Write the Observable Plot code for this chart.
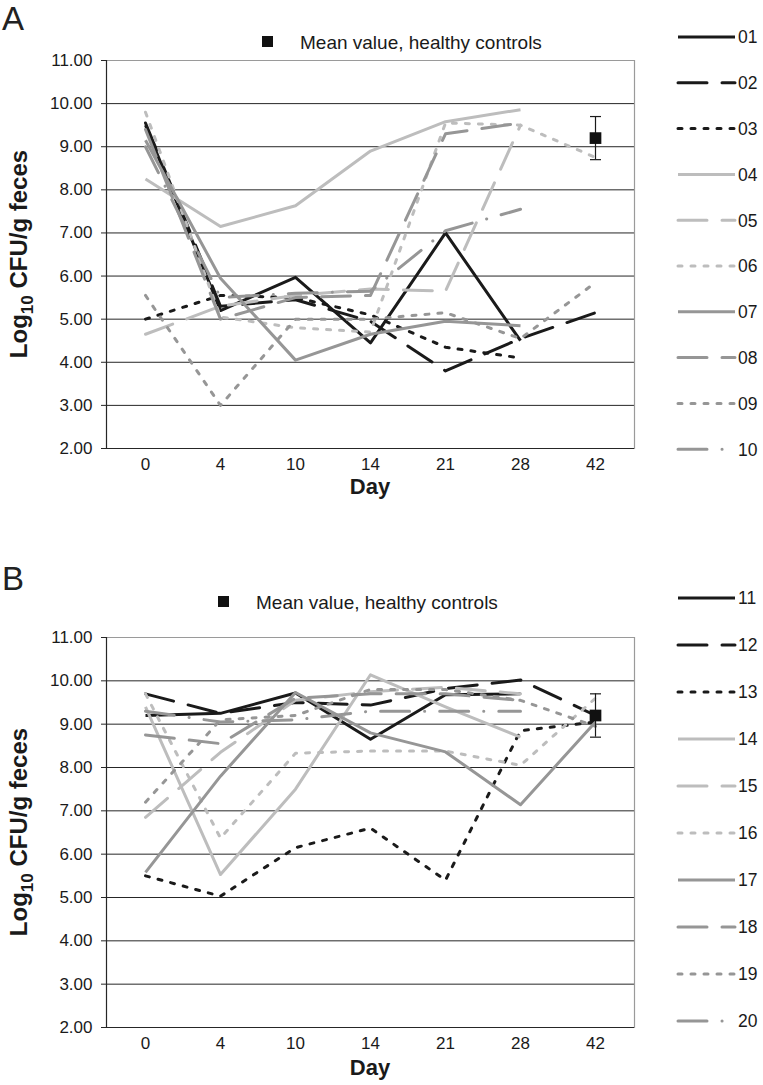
<!DOCTYPE html>
<html><head><meta charset="utf-8">
<script src="https://cdn.jsdelivr.net/npm/d3@7"></script>
<script src="https://cdn.jsdelivr.net/npm/@observablehq/plot@0.6"></script>
<style>
body{margin:0;background:#fff;}
#root{position:relative;width:763px;height:1085px;overflow:hidden;font-family:"Liberation Sans",Arial,sans-serif;}
.layer{position:absolute;left:0;}
</style></head><body><div id="root"></div>
<script>
// ---------- data ----------
const days = ["0","4","10","14","21","28","42"];
const yTicks = [2,3,4,5,6,7,8,9,10,11];

const idsA = ["01","02","03","04","05","06","07","08","09","10"];
const valuesA = [
  [9.50, 5.20, 5.97, 4.45, 7.00, 4.50, null],
  [9.55, 5.30, 5.45, 4.95, 3.80, 4.55, 5.15],
  [5.00, 5.55, 5.50, 5.10, 4.35, 4.10, null],
  [8.25, 7.15, 7.63, 8.90, 9.58, 9.86, null],
  [4.65, 5.30, 5.55, 5.70, 5.65, 9.50, null],
  [9.80, 5.05, 4.80, 4.70, 9.55, 9.50, 8.75],
  [9.15, 5.95, 4.05, 4.65, 4.95, 4.85, null],
  [9.40, 5.00, 5.50, 5.55, 9.30, 9.55, null],
  [5.55, 3.00, 5.00, 5.00, 5.15, 4.55, 5.85],
  [9.00, 5.50, 5.60, 5.65, 7.05, 7.55, null]
];

const idsB = ["11","12","13","14","15","16","17","18","19","20"];
const valuesB = [
  [9.20, 9.25, 9.72, 8.65, 9.68, 9.70, null],
  [9.70, 9.25, 9.50, 9.44, 9.82, 10.02, 9.20],
  [5.50, 5.03, 6.15, 6.60, 5.40, 8.85, 9.05],
  [9.40, 5.53, 7.50, 10.14, 9.40, 8.70, null],
  [6.85, 8.35, 9.55, 9.75, 9.85, 9.70, null],
  [9.70, 6.37, 8.33, 8.38, 8.38, 8.05, 9.60],
  [5.58, 7.80, 9.73, 8.80, 8.36, 7.14, 9.05],
  [8.75, 8.55, 9.60, 9.70, 9.70, 9.55, null],
  [7.20, 9.10, 9.20, 9.80, 9.80, 9.55, 8.95],
  [9.30, 9.05, 9.10, 9.30, 9.30, 9.30, null]
];

const meanDay = ["42"];
const meanValue = [9.2];
const meanLow = [8.7];
const meanHigh = [9.7];
const meanLabel = "Mean value, healthy controls";

// ---------- styles ----------
const FONT = "'Liberation Sans', Arial, sans-serif";
const seriesColor = ["#1a1a1a","#1a1a1a","#1a1a1a","#bdbdbd","#bdbdbd","#bdbdbd","#969696","#969696","#969696","#969696"];
const seriesDash = [null,"29,15","4,9",null,"29,15","4,9",null,"29,15","4,9","29,15,0.1,15"];
const capSymbol = {draw(ctx){ ctx.moveTo(-5.5,0); ctx.lineTo(5.5,0); }};

function panel(cfg){
  const {ids, values, top, height, marginTop, marginBottom, letter, letterY, meanX, meanY, dayY, legendY0, legendStep} = cfg;
  const wrap = document.createElement("div");
  wrap.className = "layer";
  wrap.style.top = top + "px";
  wrap.style.width = "763px";
  wrap.style.height = height + "px";

  const lines = ids.map((id, i) => {
    const rows = days.map((d, j) => ({day: d, value: values[i][j]})).filter(r => r.value != null);
    return Plot.line(rows, {x: "day", y: "value", stroke: seriesColor[i], strokeWidth: 3,
      strokeDasharray: seriesDash[i] || undefined, strokeLinecap: seriesDash[i] ? "round" : "butt", strokeLinejoin: "round"});
  });
  const meanRows = meanDay.map((d, i) => ({day: d, mean: meanValue[i], lo: meanLow[i], hi: meanHigh[i]}));

  const chart = Plot.plot({
    width: 763, height,
    marginLeft: 106, marginRight: 129, marginTop, marginBottom,
    style: {fontFamily: FONT, fontSize: "17px", color: "#1a1a1a", background: "transparent", overflow: "visible"},
    x: {type: "point", domain: days, padding: 0.5},
    y: {domain: [2, 11]},
    marks: [
      Plot.gridY(yTicks.filter(t => t > 2 && t < 11), {stroke: "#262626", strokeOpacity: 1, strokeWidth: 1}),
      Plot.ruleY([11], {stroke: "#9a9a9a", strokeWidth: 1.2}),
      Plot.frame({anchor: "right", stroke: "#9a9a9a", strokeWidth: 1.2}),
      Plot.ruleY([2], {stroke: "#262626", strokeWidth: 1.2}),
      Plot.frame({anchor: "left", stroke: "#262626", strokeWidth: 1.2}),
      Plot.axisY(yTicks, {tickSize: 5, tickPadding: 9, tickFormat: d => d.toFixed(2), fontSize: 17, label: null, stroke: "#262626"}),
      Plot.axisX({tickSize: 0, tickPadding: 9, fontSize: 17, label: null}),
      ...lines,
      Plot.ruleX(meanRows, {x: "day", y1: "lo", y2: "hi", stroke: "#1a1a1a", strokeWidth: 1.2}),
      Plot.dot(meanRows, {x: "day", y: "lo", symbol: capSymbol, stroke: "#1a1a1a", strokeWidth: 1.2}),
      Plot.dot(meanRows, {x: "day", y: "hi", symbol: capSymbol, stroke: "#1a1a1a", strokeWidth: 1.2}),
      Plot.dot(meanRows, {x: "day", y: "mean", symbol: "square", r: 6.6, fill: "#111", stroke: null})
    ]
  });
  chart.style.position = "absolute";
  chart.style.left = "0px";
  chart.style.top = "0px";
  wrap.appendChild(chart);

  // overlay: panel letter, mean legend, axis titles, series legend
  const yScale = chart.scale("y");
  const midY = (yScale.apply(2) + yScale.apply(11)) / 2;
  const svg = d3.create("svg").attr("width", 763).attr("height", height)
    .style("position", "absolute").style("left", "0px").style("top", "0px")
    .style("font-family", FONT);
  svg.append("text").attr("x", 2).attr("y", letterY).attr("font-size", 33).attr("fill", "#222").text(letter);
  svg.append("rect").attr("x", meanX).attr("y", meanY - 6).attr("width", 11).attr("height", 11).attr("fill", "#111");
  svg.append("text").attr("x", meanX + 38).attr("y", meanY).attr("dy", "0.35em").attr("font-size", 19).attr("fill", "#1a1a1a").text(meanLabel);
  svg.append("text").attr("x", 370).attr("y", dayY).attr("text-anchor", "middle").attr("font-size", 22).attr("font-weight", "bold").attr("fill", "#1a1a1a").text("Day");
  const yl = svg.append("text").attr("transform", `translate(27,${midY}) rotate(-90)`).attr("text-anchor", "middle")
    .attr("font-size", 24).attr("font-weight", "bold").attr("fill", "#1a1a1a");
  yl.append("tspan").text("Log");
  yl.append("tspan").attr("font-size", 17).attr("dy", 6).text("10");
  yl.append("tspan").attr("dy", -6).text(" CFU/g feces");

  ids.forEach((id, i) => {
    const y = legendY0 + i * legendStep;
    svg.append("line").attr("x1", 678).attr("x2", 735).attr("y1", y).attr("y2", y)
      .attr("stroke", seriesColor[i]).attr("stroke-width", 3)
      .attr("stroke-dasharray", seriesDash[i]).attr("stroke-linecap", seriesDash[i] ? "round" : "butt");
    svg.append("text").attr("x", 738).attr("y", y).attr("dy", "0.36em").attr("font-size", 17.5).attr("fill", "#1a1a1a").text(id);
  });
  wrap.appendChild(svg.node());
  document.getElementById("root").appendChild(wrap);
}

panel({ids: idsA, values: valuesA, top: 0, height: 520, marginTop: 60, marginBottom: 72,
  letter: "A", letterY: 30, meanX: 262, meanY: 42, dayY: 494, legendY0: 37, legendStep: 45.8});
panel({ids: idsB, values: valuesB, top: 520, height: 565, marginTop: 117, marginBottom: 58,
  letter: "B", letterY: 70, meanX: 218, meanY: 82, dayY: 555, legendY0: 78, legendStep: 47});
</script></body></html>
